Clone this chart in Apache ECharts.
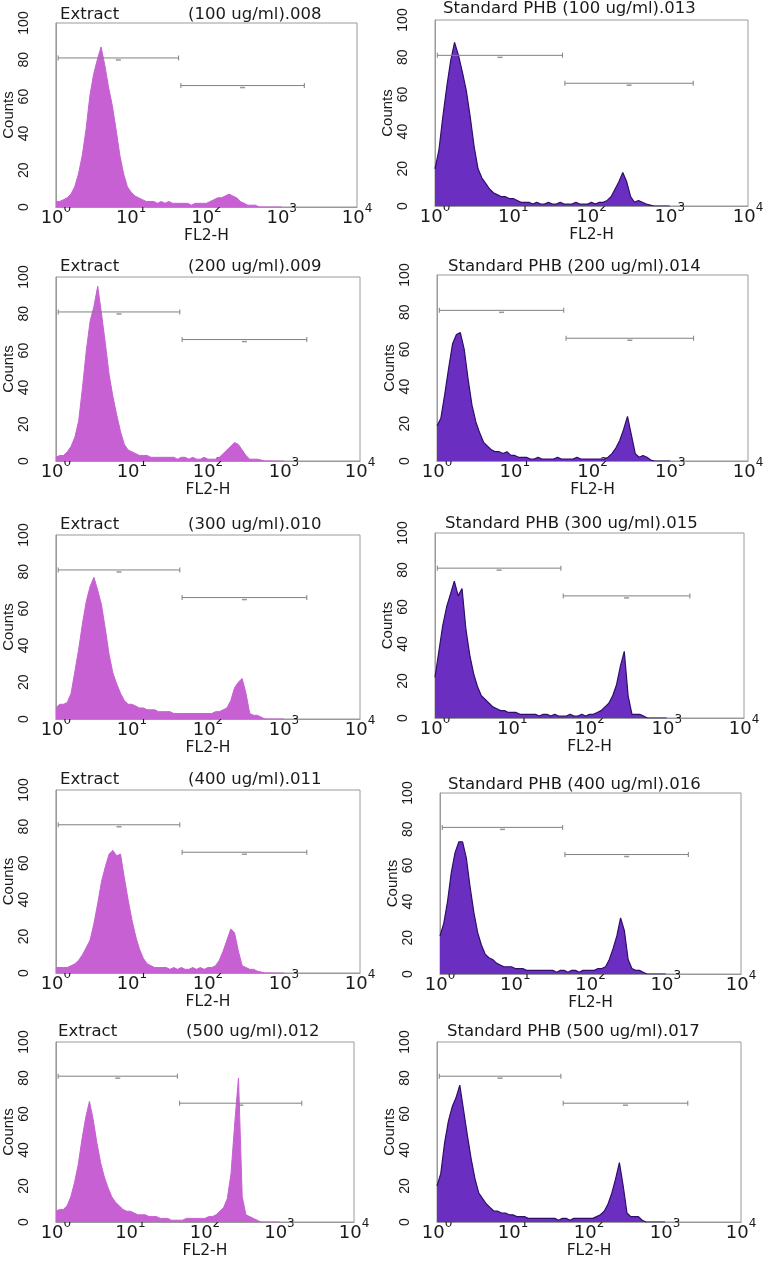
<!DOCTYPE html>
<html><head><meta charset="utf-8">
<script src="https://cdn.jsdelivr.net/npm/echarts@6/dist/echarts.min.js"></script>
<style>html,body{margin:0;padding:0;background:#fff}#c{width:775px;height:1264px}</style>
</head><body><div id="c"></div>
<script>
// FL2-H channel positions, in log10 decades (10^0 .. 10^3)
const channels = [0,0.05,0.1,0.15,0.2,0.25,0.3,0.35,0.4,0.45,0.5,0.55,0.6,0.65,0.7,0.75,0.8,0.85,0.9,0.95,
  1,1.05,1.1,1.15,1.2,1.25,1.3,1.35,1.4,1.45,1.5,1.55,1.6,1.65,1.7,1.75,1.8,1.85,1.9,1.95,
  2,2.05,2.1,2.15,2.2,2.25,2.3,2.35,2.4,2.45,2.5,2.55,2.6,2.65,2.7,2.75,2.8,2.85,2.9,2.95,3];

const ext100 = [3,3,4,5,7,11,18,28,42,60, 72,80,87,77,65,55,42,28,18,11, 8,6,5,4,3,3,3,2,3,2, 3,2,2,2,2,2,1,2,2,2, 2,3,4,5,5,6,7,6,5,3, 2,1,1,1,0,0,0,0,0,0, 0];
const std100 = [20,30,48,64,78,88,81,72,62,48, 32,20,15,12,9,7,6,5,5,4, 4,3,2,2,2,1,2,1,1,2, 1,1,2,1,1,1,2,1,1,1, 2,1,2,2,3,5,9,13,18,13, 5,2,3,2,1,0.5,0,0,0,0, 0];
const ext200 = [2,3,3,5,8,13,22,40,60,76, 84,95,80,64,47,35,25,16,9,6, 5,4,3,3,3,2,2,2,2,2, 2,2,1,2,2,1,2,1,1,2, 1,1,1,2,4,6,8,10,9,6, 3,1,1,1,0.5,0,0,0,0,0, 0];
const std200 = [19,23,36,50,63,68,69,60,44,30, 21,15,10,8,6,5,5,4,5,3, 3,2,2,2,1,1,2,1,1,1, 1,2,1,1,1,1,2,1,1,1, 1,1,1,1,2,4,7,11,17,24, 14,4,2,3,2,0.5,0,0,0,0, 0];
const ext300 = [6,8,8,9,14,26,38,52,64,72, 77,70,62,49,35,25,19,14,10,8, 8,7,6,6,5,5,5,4,4,4, 4,3,3,3,3,3,3,3,3,3, 3,3,4,4,5,6,10,17,20,22, 14,3,2,2,1,0,0,0,0,0, 0];
const std300 = [22,36,50,60,67,74,66,70,48,34, 24,17,12,10,8,6,5,4,4,3, 3,3,2,2,2,2,2,1,2,2, 1,2,1,1,1,2,1,1,2,1, 2,2,3,4,6,8,12,18,28,36, 12,2,2,2,1,0,0,0,0,0, 0];
const ext400 = [3,3,3,3,4,5,7,10,14,18, 27,38,50,58,65,67,64,65,52,40, 29,20,13,8,5,4,3,3,3,3, 2,3,2,3,2,2,3,2,3,2, 3,3,4,7,12,18,24,22,12,4, 3,2,2,1,0.5,0,0,0,0,0, 0];
const std400 = [21,28,40,56,67,73,73,64,48,34, 23,16,11,9,8,6,5,4,4,4, 3,3,3,2,2,2,2,2,2,2, 2,1,2,2,1,2,2,1,2,2, 2,2,3,3,4,8,14,21,31,24, 8,3,2,2,1,0,0,0,0,0, 0];
const ext500 = [6,7,7,9,14,22,32,46,58,67, 57,44,33,25,19,14,11,9,7,6, 6,5,4,4,4,3,3,3,2,2, 2,1,1,1,1,2,2,2,2,2, 2,3,3,4,6,8,13,27,55,80, 14,4,3,2,1,0,0,0,0,0, 0];
const std500 = [20,27,44,56,64,69,76,62,48,35, 24,16,13,10,8,6,6,5,5,4, 4,3,3,3,2,2,2,2,2,2, 2,2,1,2,2,1,2,2,2,2, 2,2,3,4,6,10,16,24,33,20, 5,3,3,3,1,0,0,0,0,0, 0];

const sampleNames = ['Extract','Standard PHB','Extract','Standard PHB','Extract','Standard PHB','Extract','Standard PHB','Extract','Standard PHB'];
const sampleLabels = ['(100 ug/ml).008','(100 ug/ml).013','(200 ug/ml).009','(200 ug/ml).014','(300 ug/ml).010','(300 ug/ml).015','(400 ug/ml).011','(400 ug/ml).016','(500 ug/ml).012','(500 ug/ml).017'];
const seriesData = [ext100, std100, ext200, std200, ext300, std300, ext400, std400, ext500, std500];

const yTicks = [0,20,40,60,80,100];
const xTickExponents = [0,1,2,3,4];
const xAxisTitle = 'FL2-H';
const yAxisTitle = 'Counts';
// gates: [start decade, end decade, count level]
const gateM1 = [0.03, 1.63, 81];
const gateM2 = [1.66, 3.30, 66];

// ---- layout / style ----
const layout = [
  {left:51, top:23, width:306, height:184, tx:60, ty:15},
  {left:435, top:20, width:313, height:186, tx:443, ty:9},
  {left:51, top:277, width:309, height:184, tx:60, ty:267},
  {left:437, top:275, width:311, height:186, tx:448, ty:267},
  {left:51, top:535, width:309, height:184, tx:60, ty:525},
  {left:435, top:533, width:309, height:185, tx:445, ty:524},
  {left:51, top:790, width:309, height:183, tx:60, ty:780},
  {left:440, top:793, width:301, height:181, tx:448, ty:785},
  {left:50, top:1042, width:304, height:180, tx:58, ty:1032},
  {left:437, top:1042, width:304, height:180, tx:447, ty:1032}
];
const HF = 'DejaVu Sans';
const RF = 'Liberation Sans';
const TXT = '#1a1a1a';
const EXT_FILL = '#c760d2', STD_FILL = '#6a2fc0', STD_LINE = '#2e0f6a';
const FRAME = '#9a9a9a', GATE = '#808080';

const grids = [], xAxes = [], yAxes = [], titles = [], series = [];
layout.forEach((L, i) => {
  const isExt = sampleNames[i] === 'Extract';
  grids.push({left:L.left, top:L.top, width:L.width, height:L.height, show:true, borderColor:FRAME, borderWidth:1, backgroundColor:'#fff'});
  xAxes.push({
    gridIndex:i, type:'value', min:xTickExponents[0], max:xTickExponents[xTickExponents.length-1], interval:1,
    axisLine:{show:true, onZero:false, lineStyle:{color:FRAME, width:1}}, axisTick:{show:false}, splitLine:{show:false},
    axisLabel:{margin:2, color:TXT, formatter: v => '{b|10}{s|' + v + '}',
      rich:{b:{fontFamily:HF, fontSize:18, lineHeight:18, color:TXT, verticalAlign:'bottom'},
            s:{fontFamily:HF, fontSize:12, lineHeight:12, color:TXT, verticalAlign:'bottom', padding:[0,0,12,0]}}},
    name:xAxisTitle, nameLocation:'middle', nameGap:18,
    nameTextStyle:{fontFamily:HF, fontSize:15.5, color:TXT}
  });
  yAxes.push({
    gridIndex:i, type:'value', min:yTicks[0], max:yTicks[yTicks.length-1], interval:yTicks[1]-yTicks[0],
    axisLine:{show:true, lineStyle:{color:FRAME, width:1}}, axisTick:{show:false}, splitLine:{show:false},
    axisLabel:{rotate:90, margin:25, fontFamily:RF, fontSize:14, color:TXT},
    name:yAxisTitle, nameLocation:'middle', nameGap:32,
    nameTextStyle:{fontFamily:RF, fontSize:15, color:TXT}
  });
  if (isExt) {
    titles.push({left:L.tx, top:L.ty-9, padding:0,
      text:'{a|' + sampleNames[i] + '}{g| }{a|' + sampleLabels[i] + '}',
      textStyle:{fontFamily:HF, fontSize:16.5, fontWeight:'normal', color:TXT, lineHeight:18,
        rich:{a:{fontFamily:HF, fontSize:16.5, color:TXT, lineHeight:18}, g:{width:69, lineHeight:18}}}});
  } else {
    titles.push({left:L.tx, top:L.ty-9, padding:0,
      text: sampleNames[i] + ' ' + sampleLabels[i],
      textStyle:{fontFamily:HF, fontSize:16.5, fontWeight:'normal', color:TXT, lineHeight:18}});
  }
  series.push({
    type:'line', xAxisIndex:i, yAxisIndex:i, showSymbol:false, symbol:'none', silent:true,
    data: channels.map((c, k) => [c, seriesData[i][k]]),
    lineStyle:{color: isExt ? EXT_FILL : STD_LINE, width: isExt ? 1 : 1.2},
    areaStyle:{color: isExt ? EXT_FILL : STD_FILL, opacity:1},
    z:2
  });
  [gateM1, gateM2].forEach(g => {
    series.push({
      type:'line', xAxisIndex:i, yAxisIndex:i, silent:true, z:5,
      data:[[g[0], g[2]], [g[1], g[2]]],
      symbol:'rect', symbolSize:[1,5], showSymbol:true,
      itemStyle:{color:GATE}, lineStyle:{color:GATE, width:1}
    });
    series.push({
      type:'scatter', xAxisIndex:i, yAxisIndex:i, silent:true, z:5,
      data:[[(g[0]+g[1])/2, g[2]]], symbol:'rect', symbolSize:[5,1.5], symbolOffset:[0,2],
      itemStyle:{color:GATE}
    });
  });
});

const chart = echarts.init(document.getElementById('c'), null, {renderer:'canvas'});
chart.setOption({
  animation:false, backgroundColor:'#fff',
  title:titles, grid:grids, xAxis:xAxes, yAxis:yAxes, series:series
});
</script></body></html>
